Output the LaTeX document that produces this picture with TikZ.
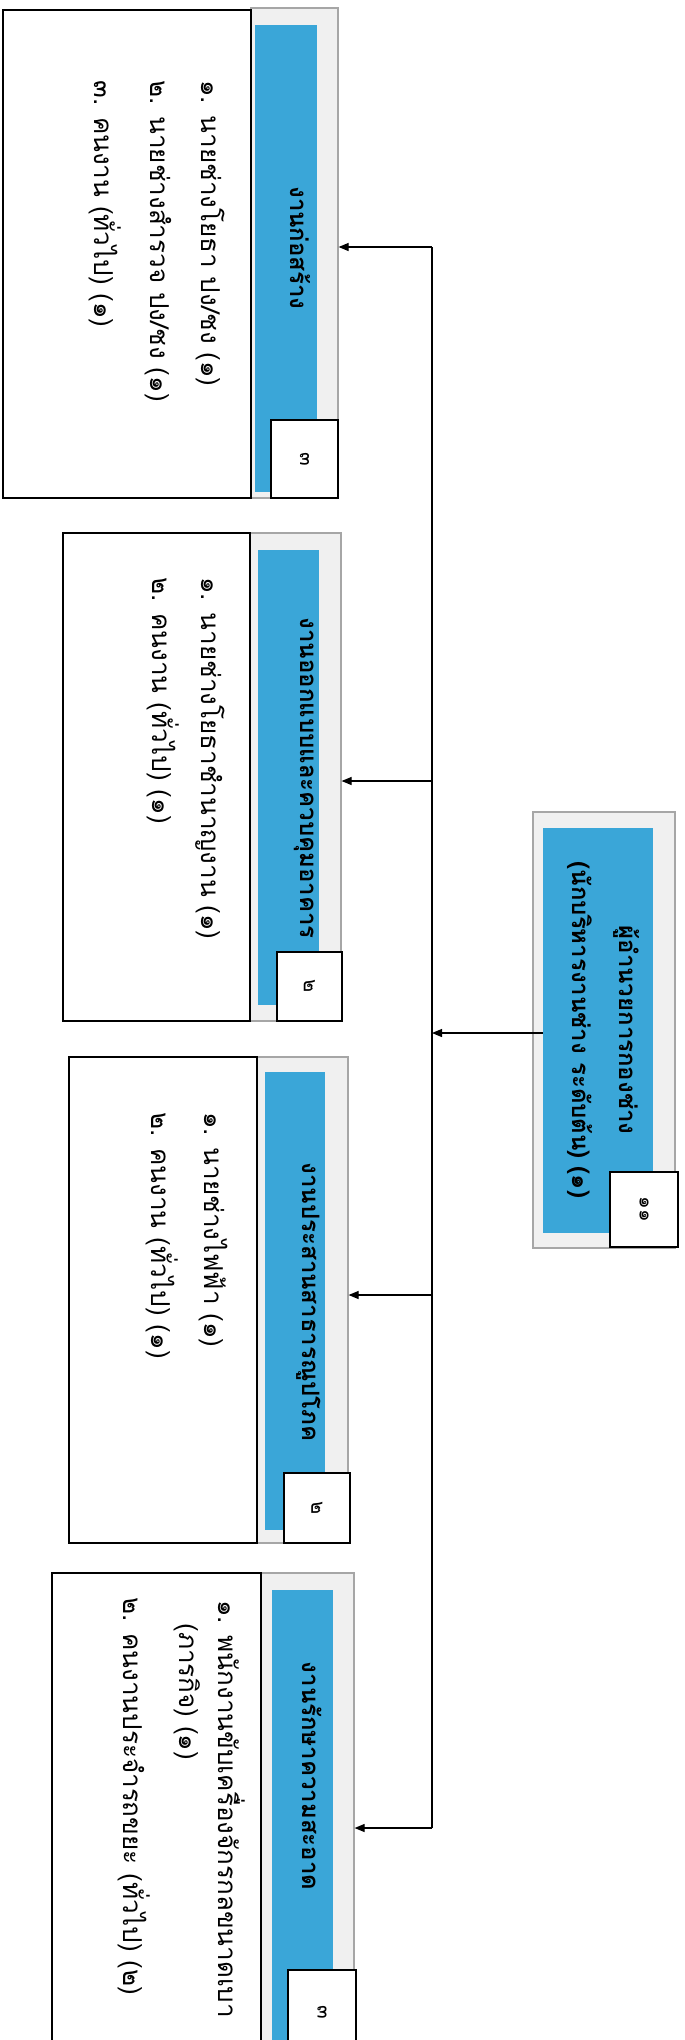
\documentclass[tikz,border=0pt]{standalone}
\usepackage{fontspec}
\newfontfamily\thai[Script=Thai]{Loma}
\usetikzlibrary{arrows.meta,fit}
\definecolor{hblue}{RGB}{58,166,216}
\begin{document}
\begin{tikzpicture}[x=0.5pt,y=-0.5pt,
 body/.style={draw=black,line width=0.8pt,fill=white,inner sep=0pt},
 hdr/.style={draw=gray!70,fill=gray!12,line width=0.6pt,inner sep=0pt},
 blu/.style={fill=hblue,inner sep=0pt},
 num/.style={draw=black,line width=0.8pt,fill=white,inner sep=0pt},
 numtext/.style={rotate=-90,inner sep=0pt,font=\thai\fontsize{10}{12}\selectfont},
 item/.style={rotate=-90,anchor=west,inner sep=0pt,font=\thai\fontsize{13}{15}\selectfont},
 htext/.style={rotate=-90,inner sep=0pt,font=\thai\bfseries\fontsize{12}{14}\selectfont},
 arr/.style={-{Triangle[length=5pt,width=4pt]},line width=0.6pt}]
\useasboundingbox (0,0) rectangle (685,2040);
\clip (0,0) rectangle (685,2040);
\fill[white] (0,0) rectangle (685,2040);

% Box 1
\node[hdr,fit={(251,8) (338,498)}] (h1) {};
\node[blu,fit={(255,25) (317,492)}] (b1) {};
\node[body,fit={(3,10) (251,498)}] (p1) {};
\node[num,fit={(271,420) (338,498)}] (n1) {};
\node[numtext] (n1t) at (n1.center) {๓};
\node[htext] (t1) at (300,248) {งานก่อสร้าง};
\node[item] (i11) at (210,80) {๑. นายช่างโยธา ปง/ชง (๑)};
\node[item] (i12) at (158,80) {๒. นายช่างสำรวจ ปง/ชง (๑)};
\node[item] (i13) at (105,80) {๓. คนงาน (ทั่วไป) (๑)};

% Box 2
\node[hdr,fit={(250,533) (341,1021)}] (h2) {};
\node[blu,fit={(258,550) (319,1005)}] (b2) {};
\node[body,fit={(63,533) (250,1021)}] (p2) {};
\node[num,fit={(277,952) (342,1021)}] (n2) {};
\node[numtext] (n2t) at (n2.center) {๒};
\node[htext] (t2) at (304,778) {งานออกแบบและควบคุมอาคาร};
\node[item] (i21) at (210,577) {๑. นายช่างโยธาชำนาญงาน (๑)};
\node[item] (i22) at (163,577) {๒. คนงาน (ทั่วไป) (๑)};

% Box 3
\node[hdr,fit={(257,1057) (348,1543)}] (h3) {};
\node[blu,fit={(265,1072) (325,1530)}] (b3) {};
\node[body,fit={(69,1057) (257,1543)}] (p3) {};
\node[num,fit={(284,1473) (350,1543)}] (n3) {};
\node[numtext] (n3t) at (n3.center) {๒};
\node[htext] (t3) at (309,1302) {งานประสานสาธารณูปโภค};
\node[item] (i31) at (213,1112) {๑. นายช่างไฟฟ้า (๑)};
\node[item] (i32) at (162,1112) {๒. คนงาน (ทั่วไป) (๑)};

% Box 4
\node[hdr,fit={(261,1573) (354,2070)}] (h4) {};
\node[blu,fit={(272,1590) (333,2060)}] (b4) {};
\node[body,fit={(52,1573) (261,2070)}] (p4) {};
\node[num,fit={(288,1970) (356,2070)}] (n4) {};
\node[numtext] (n4t) at (322,2012) {๓};
\node[htext] (t4) at (312,1776) {งานรักษาความสะอาด};
\node[item] (i41) at (232,1600) {๑. พนักงานขับเครื่องจักรกลขนาดเบา};
\node[item] (i41b) at (187,1623) {(ภารกิจ) (๑)};
\node[item] (i42) at (134,1597) {๒. คนงานประจำรถขยะ (ทั่วไป) (๒)};

% Director
\node[hdr,fit={(533,812) (675,1248)}] (d) {};
\node[blu,fit={(543,828) (653,1233)}] (db) {};
\node[num,fit={(610,1172) (678,1247)}] (dn) {};
\node[numtext] (dnt) at (dn.center) {๑๑};
\node[htext] (dt1) at (627,1030) {ผู้อำนวยการกองช่าง};
\node[htext] (dt2) at (580,1030) {(นักบริหารงานช่าง ระดับต้น) (๑)};

% Connectors
\coordinate (v1) at (432,247);
\coordinate (v2) at (432,781);
\coordinate (vd) at (432,1033);
\coordinate (v3) at (432,1295);
\coordinate (v4) at (432,1828);
\draw[line width=0.9pt] (v1) -- (v4);
\draw[arr] (v1) -- (v1 -| h1.east);
\draw[arr] (v2) -- (v2 -| h2.east);
\draw[arr] (v3) -- (v3 -| h3.east);
\draw[arr] (v4) -- (v4 -| h4.east);
\draw[arr] (vd -| db.west) -- (vd);
\end{tikzpicture}
\end{document}
